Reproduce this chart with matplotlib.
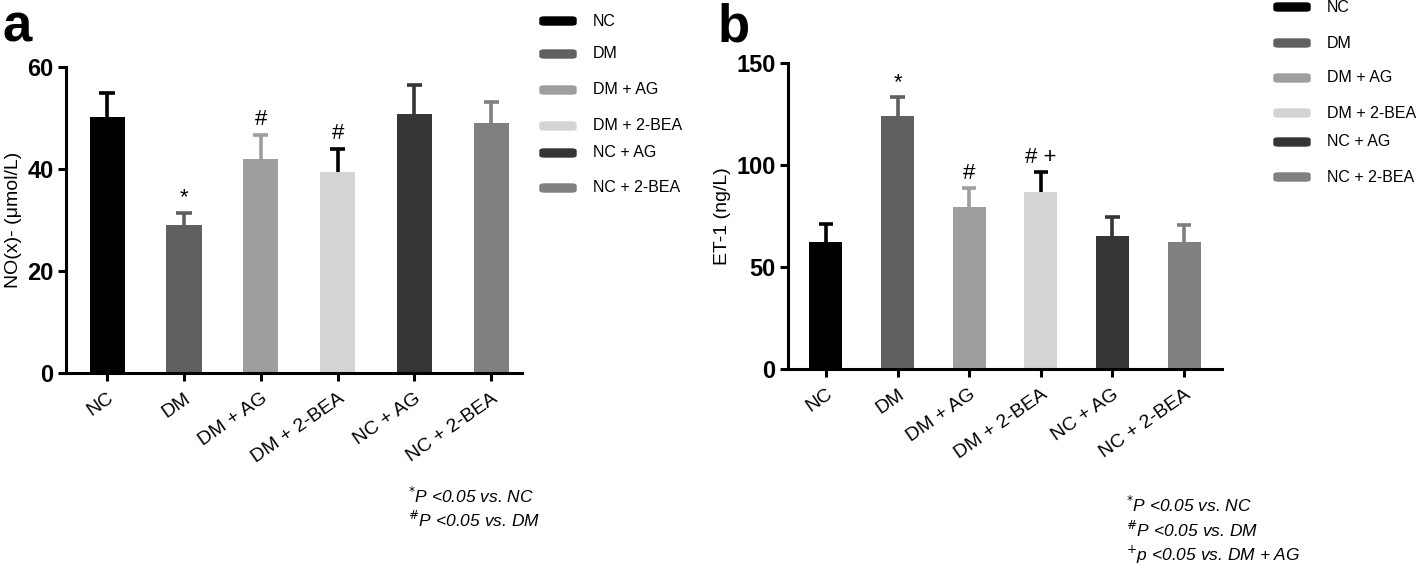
import matplotlib
matplotlib.use("Agg")
import matplotlib.pyplot as plt
from matplotlib.patches import FancyBboxPatch

plt.rcParams['font.family'] = ['Liberation Sans', 'DejaVu Sans']

groups = ['NC', 'DM', 'DM + AG', 'DM + 2-BEA', 'NC + AG', 'NC + 2-BEA']
colors = ['#000000', '#606060', '#9e9e9e', '#d4d4d4', '#353535', '#808080']
err_colors = ['#000000', '#606060', '#9e9e9e', '#000000', '#353535', '#808080']

no_mean = [50.1, 29.0, 42.0, 39.4, 50.8, 49.0]
no_err = [4.8, 2.4, 4.7, 4.5, 5.7, 4.2]
no_marks = ['', '*', '#', '#', '', '']

et_mean = [62.3, 124.0, 79.4, 86.7, 65.2, 62.3]
et_err = [8.7, 9.3, 9.3, 9.9, 9.3, 8.3]
et_marks = ['', '*', '#', '# +', '', '']

W, H = 1418, 566
fig = plt.figure(figsize=(W / 100, H / 100), dpi=100)


def fx(px):
    return px / W


def fy(py):
    return 1 - py / H


def panel(rect, means, errs, marks, ymax, yticks, ylabel, xlim, mark_gap):
    ax = fig.add_axes(rect)
    x = list(range(len(groups)))
    ax.bar(x, means, width=0.46, color=colors, zorder=2)
    tops = [m + e for m, e in zip(means, errs)]
    # upper error bars only, no cap at the bar top
    ax.vlines(x, means, tops, colors=err_colors, linewidth=2.6, zorder=1)
    ax.hlines(tops, [i - 0.1 for i in x], [i + 0.1 for i in x],
              colors=err_colors, linewidth=2.6, zorder=1)
    for i in x:
        if marks[i]:
            ax.text(i, tops[i] + mark_gap, marks[i], ha='center',
                    va='bottom', fontsize=16)
    ax.set_xlim(*xlim)
    ax.set_ylim(0, ymax)
    ax.set_yticks(yticks)
    ax.set_yticklabels([str(t) for t in yticks], fontsize=17, fontweight='bold')
    ax.set_xticks(x)
    ax.set_xticklabels(groups, rotation=35, ha='right', rotation_mode='anchor',
                       fontsize=14)
    ax.set_ylabel(ylabel, fontsize=14, labelpad=4)
    for s in ['top', 'right']:
        ax.spines[s].set_visible(False)
    for s in ['left', 'bottom']:
        ax.spines[s].set_linewidth(2.2)
    ax.tick_params(width=2.2, length=6, pad=3)
    ax.tick_params(axis='x', pad=6)
    return ax


panel([fx(66), fy(373), fx(522 - 66), (373 - 67) / H], no_mean, no_err, no_marks,
      60, [0, 20, 40, 60], 'NO(x)- (μmol/L)', (-0.536, 5.4), 1.0)
panel([fx(788), fy(369), fx(1222 - 788), (369 - 63) / H], et_mean, et_err, et_marks,
      150, [0, 50, 100, 150], 'ET-1 (ng/L)', (-0.53, 5.53), 2.0)

fig.text(fx(3), fy(42), 'a', fontsize=38, fontweight='bold')
fig.text(fx(718), fy(42), 'b', fontsize=38, fontweight='bold')


def legend(x0, rows):
    for g, c, yy in zip(groups, colors, rows):
        fig.patches.append(FancyBboxPatch((fx(x0), fy(yy + 4)), fx(36), 8 / H,
                                          boxstyle='round,pad=0,rounding_size=0.003',
                                          transform=fig.transFigure, color=c))
        fig.text(fx(x0 + 53), fy(yy), g, fontsize=11.5, va='center')


legend(540, [21, 54, 90, 126, 153, 188])
legend(1274, [7, 43, 78, 113, 142, 177])

fn = dict(fontsize=12.5, style='italic', va='center')
fig.text(fx(408), fy(496), r'$^{*}$' + 'P <0.05 vs. NC', **fn)
fig.text(fx(408), fy(520), r'$^{\#}$' + 'P <0.05 vs. DM', **fn)
fig.text(fx(1126), fy(505), r'$^{*}$' + 'P <0.05 vs. NC', **fn)
fig.text(fx(1126), fy(530), r'$^{\#}$' + 'P <0.05 vs. DM', **fn)
fig.text(fx(1126), fy(555), r'$^{+}$' + 'p <0.05 vs. DM + AG', **fn)

fig.savefig('out.png', dpi=100)
